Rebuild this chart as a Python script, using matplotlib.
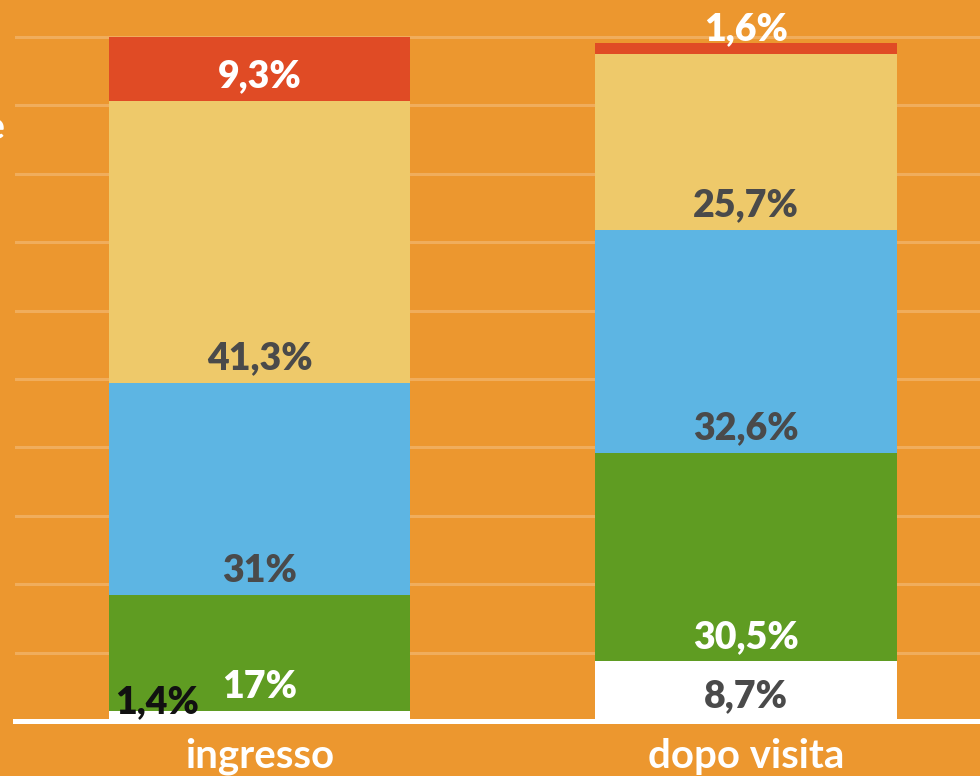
import matplotlib
matplotlib.use("Agg")
import matplotlib.pyplot as plt

categories = ["ingresso", "dopo visita"]
series_names = ["s1", "s2", "s3", "s4", "s5"]
white_vals = [1.4, 8.7]
green_vals = [17.0, 30.5]
blue_vals = [31.0, 32.6]
yellow_vals = [41.3, 25.7]
red_vals = [9.3, 1.6]
label_texts = [["1,4%", "8,7%"], ["17%", "30,5%"], ["31%", "32,6%"],
               ["41,3%", "25,7%"], ["9,3%", "1,6%"]]

BG = "#EC972F"
colors = ["#FFFFFF", "#5F9C22", "#5DB5E3", "#EEC96A", "#E04B25"]
label_colors = [["#111111", "#4A4A4A"], ["#FFFFFF", "#FFFFFF"],
                ["#4A4A4A", "#4A4A4A"], ["#4A4A4A", "#4A4A4A"],
                ["#FFFFFF", "#FFFFFF"]]

plt.rcParams['font.family'] = ['Lato', 'DejaVu Sans']

fig = plt.figure(figsize=(9.8, 7.76), dpi=100, facecolor=BG)
ax = fig.add_axes([15/980, 55/776, 965/980, 721/776])
ax.set_facecolor(BG)

x = [0, 1]
width = 0.619
series = [white_vals, green_vals, blue_vals, yellow_vals, red_vals]
bottoms = [0.0, 0.0]
for si, vals in enumerate(series):
    ax.bar(x, vals, width=width, bottom=bottoms, color=colors[si], zorder=2, linewidth=0)
    for ci in range(2):
        lx = x[ci]
        off = 3.6
        if si == 0 and ci == 0:
            lx = -0.21
            off = 2.8
        ax.text(lx, bottoms[ci] + off, label_texts[si][ci], ha="center", va="center",
                fontsize=27, fontweight="heavy", color=label_colors[si][ci], zorder=4)
    bottoms = [bottoms[i] + vals[i] for i in range(2)]

for g in range(10, 101, 10):
    ax.axhline(g, color="#F0AD5C", linewidth=2.2, zorder=1)
ax.axhline(0, color="white", linewidth=3.6, zorder=3, clip_on=False)

ax.set_xlim(-0.5026, 1.481)
ax.set_ylim(0, 100 * 721 / 684)
ax.set_xticks(x)
ax.set_xticklabels(categories, fontsize=29, fontweight="bold", color="white")
ax.tick_params(axis="x", length=0, pad=12)
ax.set_yticks([])
for s in ax.spines.values():
    s.set_visible(False)

fig.text(5/980, 1 - 128/776, "e", ha="right", va="center", fontsize=27,
         fontweight="bold", color="white")

fig.savefig("out.png", dpi=100, facecolor=BG)
